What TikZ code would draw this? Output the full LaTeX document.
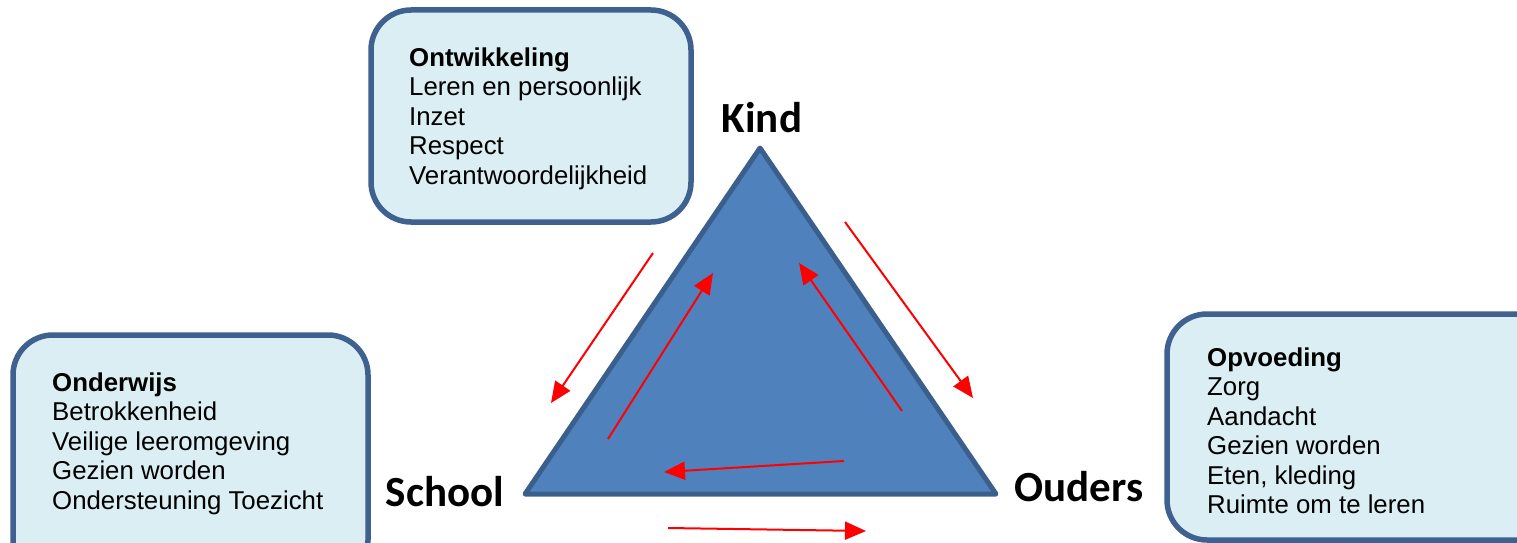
\documentclass[tikz,border=0pt]{standalone}
\usepackage{fontspec}
\setmainfont{Liberation Sans}
\newfontfamily\labelfont{Carlito}
\usetikzlibrary{arrows.meta}
\definecolor{boxfill}{HTML}{DAEEF3}
\definecolor{boxline}{HTML}{3F6190}
\definecolor{trifill}{HTML}{4F81BD}
\definecolor{triline}{HTML}{3A5F8C}
\definecolor{arrred}{HTML}{FF0000}
\tikzset{
  infobox/.style={draw=boxline, line width=5.5pt, fill=boxfill, rounded corners=40pt},
  boxtext/.style={anchor=north west, align=left, inner sep=0pt, font=\fontsize{25.8}{29.5}\selectfont},
  corner/.style={font=\labelfont\bfseries\fontsize{43}{48}\selectfont, inner sep=0pt},
  redarrow/.style={draw=arrred, line width=2pt, -{Triangle[length=21pt,width=18pt]}}
}
\begin{document}
\begin{tikzpicture}[x=1pt,y=-1pt]
\useasboundingbox (0,0) rectangle (1517,543);
% boxes
\draw[infobox] (371,10) rectangle (691,222);
\draw[infobox] (13,335) rectangle (368,580);
\draw[infobox] (1167,314) rectangle (1570,540);
\node[boxtext] (tbox) at (409,47.5) {\textbf{Ontwikkeling}\\Leren en persoonlijk\\Inzet\\Respect\\Verantwoordelijkheid};
\node[boxtext] (lbox) at (52,372.5) {\textbf{Onderwijs}\\Betrokkenheid\\Veilige leeromgeving\\Gezien worden\\Ondersteuning Toezicht};
\node[boxtext] (rbox) at (1207,347.5) {\textbf{Opvoeding}\\Zorg\\Aandacht\\Gezien worden\\Eten, kleding\\Ruimte om te leren};
% triangle
\coordinate (A) at (760,148);
\coordinate (B) at (525,494);
\coordinate (C) at (996,494);
\draw[fill=trifill, draw=triline, line width=5pt, line join=round] (A) -- (B) -- (C) -- cycle;
% labels
\node[corner] (kind) at (762,118) {Kind};
\node[corner] (school) at (445,492) {School};
\node[corner] (ouders) at (1079,487) {Ouders};
% arrows
\coordinate (a1s) at (653,253); \coordinate (a1e) at (551,403);
\coordinate (a2s) at (608,439); \coordinate (a2e) at (713,273);
\coordinate (a3s) at (902,411); \coordinate (a3e) at (799,263);
\coordinate (a4s) at (845,222); \coordinate (a4e) at (973,398);
\coordinate (a5s) at (844,461); \coordinate (a5e) at (664,472);
\coordinate (a6s) at (668,528); \coordinate (a6e) at (866,531);
\draw[redarrow] (a1s) -- (a1e);
\draw[redarrow] (a2s) -- (a2e);
\draw[redarrow] (a3s) -- (a3e);
\draw[redarrow] (a4s) -- (a4e);
\draw[redarrow] (a5s) -- (a5e);
\draw[redarrow] (a6s) -- (a6e);
\end{tikzpicture}
\end{document}
